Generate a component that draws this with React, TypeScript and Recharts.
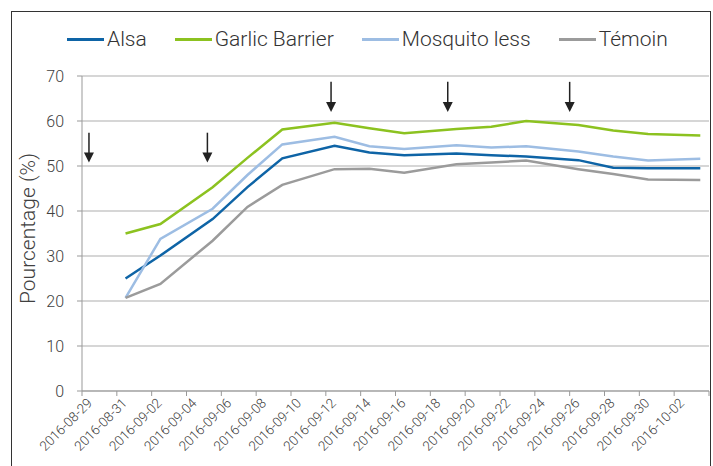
import { LineChart, Line, XAxis, YAxis, CartesianGrid, ReferenceLine, Label } from 'recharts'

const START = '2016-08-29'

// measurement dates
const dates = [
  '2016-08-31', '2016-09-02', '2016-09-05', '2016-09-07', '2016-09-09',
  '2016-09-12', '2016-09-14', '2016-09-16', '2016-09-19', '2016-09-21',
  '2016-09-23', '2016-09-26', '2016-09-28', '2016-09-30', '2016-10-03',
]

const alsa = [25.0, 30.1, 38.2, 45.3, 51.7, 54.5, 53.0, 52.4, 52.8, 52.4, 52.1, 51.3, 49.6, 49.5, 49.5]
const garlic = [35.0, 37.1, 45.3, 51.8, 58.1, 59.6, 58.4, 57.3, 58.2, 58.7, 60.0, 59.1, 57.9, 57.1, 56.8]
const mosquito = [20.7, 33.8, 40.5, 48.0, 54.8, 56.5, 54.4, 53.8, 54.6, 54.1, 54.4, 53.2, 52.1, 51.2, 51.6]
const temoin = [20.7, 23.8, 33.4, 40.9, 45.8, 49.3, 49.4, 48.5, 50.4, 50.8, 51.2, 49.3, 48.2, 47.0, 46.9]

const tickDates = [
  '2016-08-29', '2016-08-31', '2016-09-02', '2016-09-04', '2016-09-06', '2016-09-08',
  '2016-09-10', '2016-09-12', '2016-09-14', '2016-09-16', '2016-09-18', '2016-09-20',
  '2016-09-22', '2016-09-24', '2016-09-26', '2016-09-28', '2016-09-30', '2016-10-02',
]
const axisEnd = '2016-10-04'

const yTicks = [0, 10, 20, 30, 40, 50, 60, 70]

// treatment arrows (day offset from start, top and tip values)
const arrowDays = [0.4, 7.2, 14.3, 21.0, 28.0]
const arrowTop = [57.4, 57.4, 68.7, 68.7, 68.7]
const arrowTip = [50.8, 50.8, 62.0, 62.0, 62.0]

const series = [
  { key: 'alsa', name: 'Alsa', color: '#0e64a6' },
  { key: 'garlic', name: 'Garlic Barrier', color: '#8cc220' },
  { key: 'mosquito', name: 'Mosquito less', color: '#9dbde3' },
  { key: 'temoin', name: 'Témoin', color: '#9b9b9b' },
]

const dayOf = (s: string) => (Date.parse(s) - Date.parse(START)) / 86400000

// Excel date axis puts points in the middle of the day slot
const data = dates.map((d, i) => ({
  x: dayOf(d) + 0.5,
  alsa: alsa[i],
  garlic: garlic[i],
  mosquito: mosquito[i],
  temoin: temoin[i],
}))

const tickValues = [...tickDates.map(dayOf), dayOf(axisEnd)]
const labelOf: Record<number, string> = {}
tickDates.forEach((d) => { labelOf[dayOf(d)] = d })

const FONT = 'Roboto, "Liberation Sans", sans-serif'
const TEXT = '#404040'

function DateTick(props: any) {
  const { x, y, payload } = props
  const label = labelOf[payload.value]
  if (!label) return null
  const ax = x + 11
  const ay = y + 8
  return (
    <text
      x={ax}
      y={ay}
      textAnchor="end"
      fontSize={13.5}
      fontWeight={300}
      fill={TEXT}
      fontFamily={FONT}
      transform={`rotate(-45 ${ax} ${ay})`}
    >
      {label}
    </text>
  )
}

function Arrow(props: any) {
  const { x1, y1, x2, y2 } = props
  return (
    <g>
      <line x1={x1} y1={y1} x2={x2} y2={y2 - 8} stroke="#222" strokeWidth={1.5} />
      <polygon points={`${x2 - 5},${y2 - 10} ${x2 + 5},${y2 - 10} ${x2},${y2}`} fill="#222" />
    </g>
  )
}

function ChartLegend() {
  return (
    <div
      style={{
        position: 'absolute', top: 29, left: 67, display: 'flex', gap: 28,
        fontFamily: FONT, fontSize: 21, fontWeight: 300, color: '#333', lineHeight: '21px',
      }}
    >
      {series.map((s) => (
        <div key={s.key} style={{ display: 'flex', alignItems: 'center' }}>
          <span style={{ display: 'inline-block', width: 37, height: 3, background: s.color, marginRight: 3 }} />
          <span>{s.name}</span>
        </div>
      ))}
    </div>
  )
}

export default function App() {
  return (
    <div style={{ position: 'relative', width: 713, height: 466, background: '#fff', overflow: 'hidden' }}>
      <style>{'body{margin:0}'}</style>
      <div
        style={{
          position: 'absolute', left: 11, top: 11, width: 698, height: 470,
          borderLeft: '1.5px solid #333', borderTop: '1.5px solid #333', borderRight: '1.5px solid #333',
        }}
      />
      <ChartLegend />
      <LineChart
        width={713}
        height={466}
        data={data}
        margin={{ top: 76, right: 4, bottom: 0, left: 0 }}
        style={{ position: 'absolute', left: 0, top: 0 }}
      >
        <CartesianGrid vertical={false} stroke="#c8c8c8" strokeWidth={1.5} />
        <XAxis
          dataKey="x"
          type="number"
          domain={[0, dayOf(axisEnd)]}
          ticks={tickValues}
          interval={0}
          height={75}
          tickSize={5}
          tickMargin={0}
          tick={<DateTick />}
          stroke="#999"
          allowDataOverflow
        />
        <YAxis
          domain={[0, 70]}
          ticks={yTicks}
          width={82}
          tickSize={5}
          tickMargin={13}
          stroke="#999"
          tick={{ fill: TEXT, fontSize: 16, fontFamily: FONT, fontWeight: 300 }}
        >
          <Label
            content={({ viewBox }: any) => {
              const cx = viewBox.x + 28
              const cy = viewBox.y + viewBox.height / 2 - 5
              return (
                <text
                  x={cx}
                  y={cy}
                  textAnchor="middle"
                  dominantBaseline="central"
                  fontSize={21}
                  fontWeight={300}
                  fill={TEXT}
                  fontFamily={FONT}
                  transform={`rotate(-90 ${cx} ${cy})`}
                >
                  Pourcentage (%)
                </text>
              )
            }}
          />
        </YAxis>
        {series.map((s) => (
          <Line
            key={s.key}
            type="linear"
            dataKey={s.key}
            name={s.name}
            stroke={s.color}
            strokeWidth={2.5}
            dot={false}
            isAnimationActive={false}
          />
        ))}
        {arrowDays.map((d, i) => (
          <ReferenceLine
            key={i}
            segment={[{ x: d, y: arrowTop[i] }, { x: d, y: arrowTip[i] }]}
            shape={<Arrow />}
          />
        ))}
      </LineChart>
    </div>
  )
}
